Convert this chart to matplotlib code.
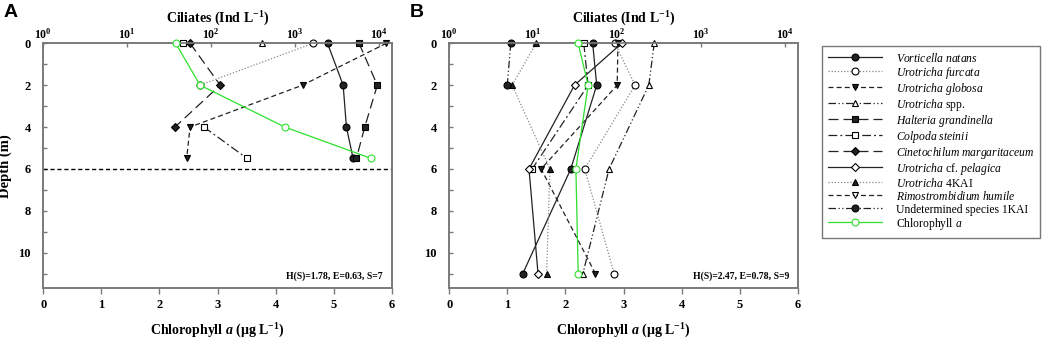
import numpy as np
import matplotlib
matplotlib.use('Agg')
import matplotlib.pyplot as plt
from matplotlib.lines import Line2D

plt.rcParams['font.family'] = 'Liberation Serif'
plt.rcParams['font.weight'] = 'bold'
plt.rcParams['axes.labelweight'] = 'bold'
plt.rcParams['mathtext.fontset'] = 'custom'
plt.rcParams['mathtext.rm'] = 'Liberation Serif:normal'
plt.rcParams['mathtext.it'] = 'Liberation Serif:italic:normal'
plt.rcParams['mathtext.bf'] = 'Liberation Serif:bold'
plt.rcParams['mathtext.bfit'] = 'Liberation Serif:italic:bold'

nan = np.nan

# ---------------- data ----------------
depth_A = [0, 2, 4, 5.5]
depth_B = [0, 2, 6, 11]

# Panel A ciliate abundances (Ind L-1), NaN = absent
A_vorticella = [2430, 3730, 4080, 4900]
A_furcata = [1640, 73, nan, nan]
A_globosa = [12180, 1224, 56, 51]
A_spp = [404, nan, nan, nan]
A_halteria = [5770, 9520, 6740, 5360]
A_colpoda = [46, nan, 82, 268]
A_cinetochilum = [56, 128, 37, nan]
A_chl = [2.28, 2.70, 4.16, 5.65]

# Panel B ciliate abundances (Ind L-1)
B_vorticella = [51, 57, 28, 7.5]
B_furcata = [94, 163, 41, 92]
B_globosa = [102, 100, 12.4, 55]
B_spp = [276, 238, 80, 39]
B_colpoda = [40, 45, 9.7, nan]
B_pelagica = [113, 31, 8.9, 11.4]
B_4kai = [10.8, 5.6, 15.8, 14.4]
B_rimostrombidium = [105, nan, nan, nan]
B_undetermined = [5.4, 4.9, nan, nan]
B_chl = [2.22, 2.39, 2.18, 2.22]

chl_ticks = [0, 1, 2, 3, 4, 5, 6]
ciliate_ticks = [1, 10, 100, 1000, 10000]
ciliate_ticklabels = [r'$\mathbf{10^{0}}$', r'$\mathbf{10^{1}}$', r'$\mathbf{10^{2}}$',
                      r'$\mathbf{10^{3}}$', r'$\mathbf{10^{4}}$']
depth_ticks = [0, 2, 4, 6, 8, 10]
diversity_A = 'H(S)=1.78, E=0.63, S=7'
diversity_B = 'H(S)=2.47, E=0.78, S=9'

legend_labels = [
    r'$\mathit{Vorticella\ natans}$',
    r'$\mathit{Urotricha\ furcata}$',
    r'$\mathit{Urotricha\ globosa}$',
    r'$\mathit{Urotricha}$ spp.',
    r'$\mathit{Halteria\ grandinella}$',
    r'$\mathit{Colpoda\ steinii}$',
    r'$\mathit{Cinetochilum\ margaritaceum}$',
    r'$\mathit{Urotricha}$ cf. $\mathit{pelagica}$',
    r'$\mathit{Urotricha}$ 4KAI',
    r'$\mathit{Rimostrombidium\ humile}$',
    'Undetermined species 1KAI',
    r'Chlorophyll $\mathit{a}$',
]

# ---------------- styles ----------------
DK = '#222222'
GR = '#888888'
GREEN = '#2ee02e'
styles = {
    'vorticella': dict(color=DK, ls='-', marker='o', mfc=DK),
    'furcata': dict(color=GR, ls=(0, (1, 1.5)), marker='o', mfc='white'),
    'globosa': dict(color=DK, ls=(0, (4, 2.5)), marker='v', mfc=DK),
    'spp': dict(color=DK, ls=(0, (6, 2, 1, 2, 1, 2)), marker='^', mfc='white'),
    'halteria': dict(color=DK, ls=(0, (8, 4)), marker='s', mfc=DK),
    'colpoda': dict(color=DK, ls=(0, (7, 2.5, 1.5, 2.5)), marker='s', mfc='white'),
    'cinetochilum': dict(color=DK, ls=(0, (8, 4)), marker='D', mfc=DK),
    'pelagica': dict(color=DK, ls='-', marker='D', mfc='white'),
    '4kai': dict(color=GR, ls=(0, (1, 1.5)), marker='^', mfc=DK),
    'rimostrombidium': dict(color=DK, ls=(0, (4, 2.5)), marker='v', mfc='white'),
    'undetermined': dict(color=DK, ls=(0, (6, 2, 1, 2, 1, 2)), marker='o', mfc=DK),
    'chl': dict(color=GREEN, ls='-', marker='o', mfc='white'),
}
order = ['vorticella', 'furcata', 'globosa', 'spp', 'halteria', 'colpoda',
         'cinetochilum', 'pelagica', '4kai', 'rimostrombidium', 'undetermined', 'chl']

MS = {'o': 5, 'v': 5, '^': 5, 's': 4.5, 'D': 4.2}


def plot_series(axis, x, y, key):
    st = styles[key]
    mec = GREEN if key == 'chl' else 'black'
    axis.plot(x, y, color=st['color'], ls=st['ls'], lw=0.9, marker=st['marker'],
              ms=MS[st['marker']], mfc=st['mfc'], mec=mec, mew=0.8, clip_on=False)


W, H = 1045, 339
fig = plt.figure(figsize=(W / 100, H / 100), dpi=100)
SPINE = '#7a7a7a'
YMAX = 11.7


def make_panel(left_px, label, ylabel=True):
    ax = fig.add_axes([left_px / W, 1 - 288.3 / H, 348.4 / W, 245.0 / H])
    ax.set_xlim(0, 6)
    ax.set_ylim(YMAX, 0)
    ax.set_xticks(chl_ticks)
    ax.set_yticks(depth_ticks)
    ax.set_yticks(np.arange(1, 12, 2), minor=True)
    ax.tick_params(axis='x', direction='out', length=4, width=1, color=SPINE,
                   labelsize=9, pad=4)
    ax.tick_params(axis='y', which='both', direction='in', length=3, width=1,
                   color=SPINE, labelsize=9, pad=9, right=True)
    for s in ax.spines.values():
        s.set_color(SPINE)
        s.set_linewidth(1.2)
    ax.set_xlabel(r'Chlorophyll $\mathbfit{a}$ (μg L$^{\mathbf{-1}}$)', fontsize=10)
    ax.xaxis.set_label_coords(0.5, -0.135)
    if ylabel:
        ax.set_ylabel('Depth (m)', fontsize=10.5)
        ax.yaxis.set_label_coords(-0.09, 0.5)
    axt = ax.twiny()
    axt.set_xscale('log')
    axt.set_xlim(1, 10 ** 4.15)
    axt.set_xticks(ciliate_ticks)
    axt.set_xticklabels(ciliate_ticklabels)
    axt.xaxis.set_minor_locator(matplotlib.ticker.NullLocator())
    axt.tick_params(axis='x', direction='in', length=3, width=1, color=SPINE,
                    labelsize=8.5, pad=1.5)
    for s in axt.spines.values():
        s.set_color(SPINE)
        s.set_linewidth(1.2)
    axt.set_xlabel(r'Ciliates (Ind L$^{\mathbf{-1}}$)', fontsize=10)
    axt.xaxis.set_label_coords(0.5, 1.085)
    fig.text((left_px - 40) / W, 1 - 4 / H, label, fontsize=14, fontweight='bold',
             family='Liberation Sans', ha='left', va='top')
    return ax, axt


axA, axAt = make_panel(43.3, 'A')
axB, axBt = make_panel(449.3, 'B', ylabel=False)

# Panel A
axA.axhline(6, color='black', ls=(0, (3, 2)), lw=1)
plot_series(axAt, A_vorticella, depth_A, 'vorticella')
plot_series(axAt, A_furcata, depth_A, 'furcata')
plot_series(axAt, A_globosa, depth_A, 'globosa')
plot_series(axAt, A_spp, depth_A, 'spp')
plot_series(axAt, A_halteria, depth_A, 'halteria')
plot_series(axAt, A_colpoda, depth_A, 'colpoda')
plot_series(axAt, A_cinetochilum, depth_A, 'cinetochilum')
# chlorophyll on the bottom (linear) scale, drawn above the ciliates
axAc = axA.twinx()
axAc.set_ylim(YMAX, 0)
axAc.axis('off')
axAc.set_xlim(0, 6)
plot_series(axAc, A_chl, depth_A, 'chl')

# Panel B
plot_series(axBt, B_rimostrombidium, depth_B, 'rimostrombidium')
plot_series(axBt, B_vorticella, depth_B, 'vorticella')
plot_series(axBt, B_furcata, depth_B, 'furcata')
plot_series(axBt, B_globosa, depth_B, 'globosa')
plot_series(axBt, B_spp, depth_B, 'spp')
plot_series(axBt, B_colpoda, depth_B, 'colpoda')
plot_series(axBt, B_pelagica, depth_B, 'pelagica')
plot_series(axBt, B_4kai, depth_B, '4kai')
plot_series(axBt, B_undetermined, depth_B, 'undetermined')
axBc = axB.twinx()
axBc.set_ylim(YMAX, 0)
axBc.axis('off')
axBc.set_xlim(0, 6)
plot_series(axBc, B_chl, depth_B, 'chl')

axA.text(0.975, 0.05, diversity_A, transform=axA.transAxes, ha='right', va='center',
         fontsize=7, fontweight='bold')
axB.text(0.975, 0.05, diversity_B, transform=axB.transAxes, ha='right', va='center',
         fontsize=7, fontweight='bold')

# Legend
handles = []
for key in order:
    st = styles[key]
    mec = GREEN if key == 'chl' else 'black'
    handles.append(Line2D([], [], color=st['color'], ls=st['ls'], lw=0.9,
                          marker=st['marker'], ms=MS[st['marker']], mfc=st['mfc'],
                          mec=mec, mew=0.8))
LFS = 8.4
LPX = LFS * 100 / 72
leg = fig.legend(handles, legend_labels, loc='upper left',
                 bbox_to_anchor=(822 / W, 1 - 46 / H), borderaxespad=0,
                 frameon=True, fancybox=False, edgecolor='#555555',
                 prop=dict(family='Liberation Serif', weight='normal', size=LFS),
                 handlelength=54 / LPX, handletextpad=14 / LPX, labelspacing=0,
                 handleheight=14.4 / LPX, borderpad=0.5)
leg.get_frame().set_linewidth(1.0)

fig.savefig('out.png', dpi=100)
